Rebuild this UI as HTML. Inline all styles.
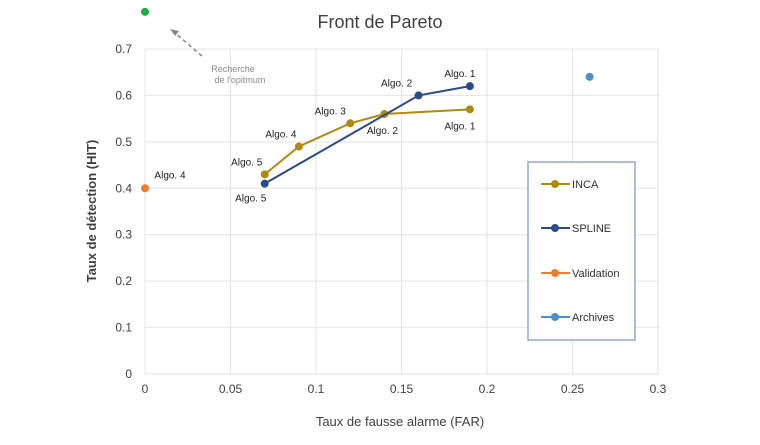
<!DOCTYPE html>
<html><head><meta charset="utf-8"><style>
body{margin:0;background:#fff;font-family:"Liberation Sans",sans-serif}
</style></head><body>
<svg id="c" width="760" height="440" xmlns="http://www.w3.org/2000/svg"></svg>
<script>
const xTicks=[0,0.05,0.1,0.15,0.2,0.25,0.3];
const xTickLabels=["0","0.05","0.1","0.15","0.2","0.25","0.3"];
const yTicks=[0,0.1,0.2,0.3,0.4,0.5,0.6,0.7];
const yTickLabels=["0","0.1","0.2","0.3","0.4","0.5","0.6","0.7"];
const incaX=[0.07,0.09,0.12,0.14,0.19];
const incaY=[0.43,0.49,0.54,0.56,0.57];
const splineX=[0.07,0.16,0.19];
const splineY=[0.41,0.60,0.62];
const validationX=[0];const validationY=[0.40];
const archivesX=[0.26];const archivesY=[0.64];
const optimumX=[0];const optimumY=[0.78];
const labels=[
 {t:"Algo. 5",x:0.07,y:0.43,dx:-18,dy:-9},{t:"Algo. 4",x:0.09,y:0.49,dx:-18,dy:-9},
 {t:"Algo. 3",x:0.12,y:0.54,dx:-20,dy:-9},{t:"Algo. 2",x:0.14,y:0.56,dx:-2,dy:20},
 {t:"Algo. 1",x:0.19,y:0.57,dx:-10,dy:20},{t:"Algo. 5",x:0.07,y:0.41,dx:-14,dy:18},
 {t:"Algo. 2",x:0.16,y:0.60,dx:-22,dy:-9},{t:"Algo. 1",x:0.19,y:0.62,dx:-10,dy:-9},
 {t:"Algo. 4",x:0,y:0.40,dx:25,dy:-10}];
const X0=145,X1=658,Y0=374,Y1=49;
const sx=v=>X0+(v-0)/0.3*(X1-X0), sy=v=>Y0-v/0.7*(Y0-Y1);
const svg=document.getElementById('c');const NS="http://www.w3.org/2000/svg";
function el(tag,attrs,name,txt){const e=document.createElementNS(NS,tag);for(const k in attrs)e.setAttribute(k,attrs[k]);


if(txt!==undefined)e.textContent=txt;svg.appendChild(e);return e;}
xTicks.forEach((v,i)=>{el('line',{x1:sx(v),x2:sx(v),y1:Y1,y2:Y0,stroke:'#e3e3e3'},'x-gridline');
 el('text',{x:sx(v),y:Y0+19,'text-anchor':'middle','font-size':12,fill:'#404040'},'x-tick-label',xTickLabels[i]);});
yTicks.forEach((v,i)=>{el('line',{x1:X0,x2:X1,y1:sy(v),y2:sy(v),stroke:'#e3e3e3'},'y-gridline');
 el('text',{x:X0-13,y:sy(v)+4,'text-anchor':'end','font-size':12,fill:'#404040'},'y-tick-label',yTickLabels[i]);});
el('text',{x:380,y:28,'text-anchor':'middle','font-size':18,fill:'#404040'},'chart-title','Front de Pareto');
el('text',{x:400,y:426,'text-anchor':'middle','font-size':13,fill:'#404040'},'x-axis-title','Taux de fausse alarme (FAR)');
el('text',{x:96,y:211,'text-anchor':'middle','font-size':13,'font-weight':'bold',fill:'#404040',transform:'rotate(-90 96 211)'},'y-axis-title','Taux de détection (HIT)');
function series(xs,ys,col,name,line){
 if(line)el('polyline',{points:xs.map((x,i)=>sx(x)+','+sy(ys[i])).join(' '),fill:'none',stroke:col,'stroke-width':2},name+'-line');
 xs.forEach((x,i)=>el('circle',{cx:sx(x),cy:sy(ys[i]),r:4,fill:col},name+'-point'));}
series(incaX,incaY,'#b08a10','inca',true);
series(splineX,splineY,'#2a4a8a','spline',true);
series(validationX,validationY,'#ee7d30','validation',false);
series(archivesX,archivesY,'#4a90d0','archives',false);
series(optimumX,optimumY,'#22aa44','optimum',false);
labels.forEach(l=>el('text',{x:sx(l.x)+l.dx,y:sy(l.y)+l.dy,'text-anchor':'middle','font-size':10,fill:'#202020'},'data-label',l.t));
el('line',{x1:202,y1:56,x2:174,y2:32,stroke:'#888','stroke-width':1.5,'stroke-dasharray':'4,3'},'optimum-arrow');
el('polygon',{points:'170,29 179,31 175,36',fill:'#888'},'optimum-arrowhead');
el('text',{x:233,y:72,'text-anchor':'middle','font-size':9,fill:'#888'},'annotation-line1','Recherche');
el('text',{x:240,y:83,'text-anchor':'middle','font-size':9,fill:'#888'},'annotation-line2',"de l'opitmum");
el('rect',{x:528,y:162,width:107,height:178,fill:'#fff',stroke:'#8fa8d0','stroke-width':1.5},'legend-box');
[['INCA','#b08a10',184],['SPLINE','#2a4a8a',228],['Validation','#ee7d30',273],['Archives','#4a90d0',317]].forEach(l=>{
 el('line',{x1:541,x2:570,y1:l[2],y2:l[2],stroke:l[1],'stroke-width':2},'legend-line');
 el('circle',{cx:555,cy:l[2],r:4,fill:l[1]},'legend-marker');
 el('text',{x:572,y:l[2]+4,'font-size':11,fill:'#303030'},'legend-entry',l[0]);});
</script>
</body></html>
